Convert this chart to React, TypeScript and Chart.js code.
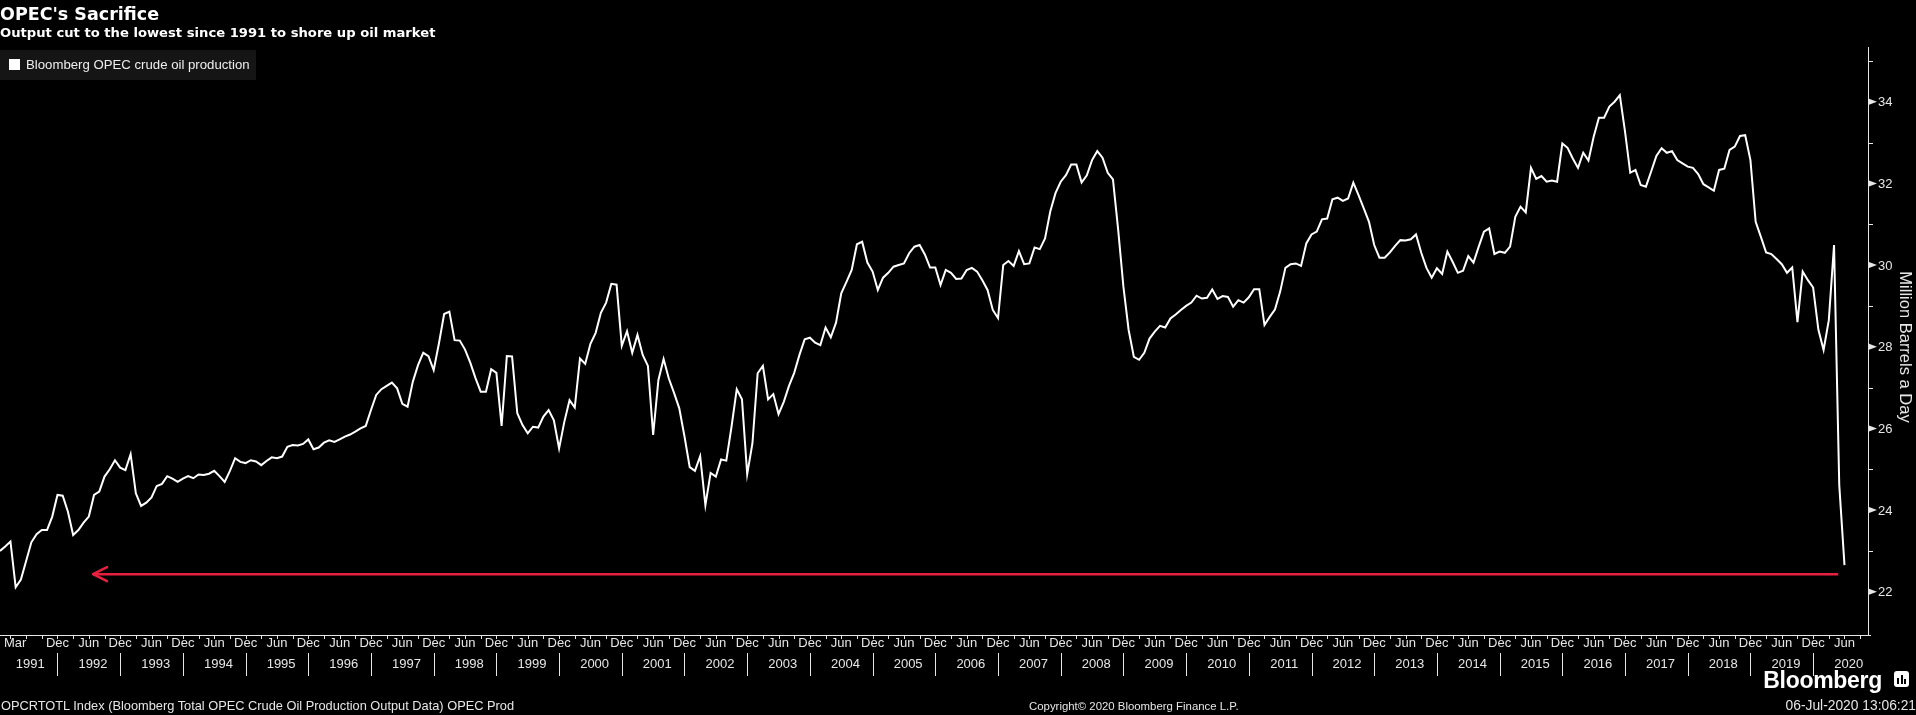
import React, { useEffect, useRef } from "react";
import { Chart, registerables } from "chart.js";

Chart.register(...registerables);

// Monthly OPEC crude production, million barrels a day, Jan 1991 .. Jun 2020 (month-end)
const production: number[] = [
  23.00, 23.11, 23.23, 22.11, 22.30, 22.75, 23.21, 23.41, 23.51, 23.51, 23.84, 24.37, // 1991
  24.35, 23.96, 23.39, 23.51, 23.69, 23.84, 24.37, 24.45, 24.82, 25.00, 25.22, 25.04, // 1992
  24.98, 25.37, 24.41, 24.10, 24.18, 24.31, 24.59, 24.64, 24.83, 24.77, 24.69, 24.77, // 1993
  24.83, 24.78, 24.87, 24.86, 24.89, 24.96, 24.83, 24.69, 24.96, 25.27, 25.18, 25.15, // 1994
  25.22, 25.19, 25.10, 25.20, 25.29, 25.27, 25.31, 25.55, 25.59, 25.58, 25.62, 25.73, // 1995
  25.49, 25.53, 25.65, 25.71, 25.67, 25.73, 25.80, 25.85, 25.92, 26.00, 26.06, 26.45, // 1996
  26.82, 26.96, 27.04, 27.12, 26.98, 26.60, 26.53, 27.14, 27.55, 27.85, 27.77, 27.43, // 1997
  28.08, 28.80, 28.86, 28.16, 28.15, 27.93, 27.61, 27.23, 26.90, 26.90, 27.45, 27.36, // 1998
  26.06, 27.77, 27.76, 26.37, 26.08, 25.88, 26.04, 26.02, 26.29, 26.45, 26.20, 25.51, // 1999
  26.16, 26.69, 26.51, 27.71, 27.58, 28.07, 28.34, 28.83, 29.08, 29.54, 29.52, 28.02, // 2000
  28.38, 27.85, 28.29, 27.80, 27.53, 25.84, 27.18, 27.70, 27.22, 26.87, 26.49, 25.80, // 2001
  25.05, 24.96, 25.32, 24.12, 24.91, 24.82, 25.24, 25.21, 26.04, 26.96, 26.71, 24.88, // 2002
  25.63, 27.35, 27.53, 26.71, 26.84, 26.35, 26.65, 27.04, 27.36, 27.80, 28.18, 28.22, // 2003
  28.10, 28.04, 28.47, 28.23, 28.59, 29.31, 29.59, 29.88, 30.51, 30.57, 30.06, 29.84, // 2004
  29.39, 29.69, 29.81, 29.96, 30.00, 30.04, 30.29, 30.45, 30.49, 30.26, 29.94, 29.94, // 2005
  29.51, 29.88, 29.81, 29.66, 29.67, 29.88, 29.93, 29.84, 29.63, 29.39, 28.90, 28.70, // 2006
  30.00, 30.10, 29.98, 30.34, 30.02, 30.04, 30.43, 30.39, 30.65, 31.31, 31.76, 32.04, // 2007
  32.20, 32.46, 32.46, 32.02, 32.20, 32.57, 32.79, 32.63, 32.26, 32.10, 30.86, 29.47, // 2008
  28.41, 27.75, 27.68, 27.85, 28.20, 28.37, 28.51, 28.47, 28.69, 28.79, 28.90, 29.00, // 2009
  29.08, 29.25, 29.18, 29.20, 29.40, 29.17, 29.24, 29.22, 28.98, 29.14, 29.08, 29.21, // 2010
  29.41, 29.41, 28.53, 28.73, 28.91, 29.35, 29.93, 30.02, 30.04, 29.98, 30.53, 30.75, // 2011
  30.82, 31.12, 31.14, 31.61, 31.65, 31.57, 31.63, 32.02, 31.71, 31.39, 31.06, 30.49, // 2012
  30.18, 30.18, 30.31, 30.47, 30.61, 30.60, 30.63, 30.75, 30.30, 29.93, 29.69, 29.92, // 2013
  29.78, 30.33, 30.08, 29.81, 29.86, 30.22, 30.06, 30.45, 30.82, 30.90, 30.27, 30.33, // 2014
  30.30, 30.45, 31.18, 31.43, 31.29, 32.38, 32.11, 32.18, 32.04, 32.07, 32.04, 32.98, // 2015
  32.87, 32.61, 32.38, 32.75, 32.56, 33.14, 33.61, 33.61, 33.88, 34.00, 34.16, 33.27, // 2016
  32.26, 32.33, 31.96, 31.92, 32.29, 32.67, 32.86, 32.75, 32.79, 32.57, 32.49, 32.41, // 2017
  32.38, 32.23, 31.98, 31.90, 31.82, 32.33, 32.36, 32.82, 32.90, 33.16, 33.18, 32.57, // 2018
  31.06, 30.69, 30.31, 30.27, 30.15, 30.02, 29.81, 29.94, 28.60, 29.84, 29.63, 29.45, // 2019
  28.42, 27.92, 28.65, 30.49, 24.61, 22.65, // 2020
];

const yearLabels: string[] = [
  "1991", "1992", "1993", "1994", "1995", "1996", "1997", "1998", "1999", "2000",
  "2001", "2002", "2003", "2004", "2005", "2006", "2007", "2008", "2009", "2010",
  "2011", "2012", "2013", "2014", "2015", "2016", "2017", "2018", "2019", "2020",
];
const firstMonthLabel = "Mar";
const midYearLabel = "Jun";
const lateYearLabel = "Dec";

const yMajorTicks: number[] = [22, 24, 26, 28, 30, 32, 34];
const yMinorTicks: number[] = [23, 25, 27, 29, 31, 33, 35];

// red "lowest since 1991" arrow (month index from Jan 1991, level)
const arrowMonths: number[] = [17.8, 351.8];
const arrowLevel = 22.43;

const titleText = "OPEC's Sacrifice";
const subtitleText = "Output cut to the lowest since 1991 to shore up oil market";
const legendText = "Bloomberg OPEC crude oil production";
const axisTitle = "Million Barrels a Day";
const sourceText = "OPCRTOTL Index (Bloomberg Total OPEC Crude Oil Production Output Data) OPEC Prod";
const copyrightText = "Copyright\u00A9 2020 Bloomberg Finance L.P.";
const stampText = "06-Jul-2020 13:06:21";

const TICK_FONT = "'Liberation Sans', Arial, sans-serif";

const bbgAxes = {
  id: "bbgAxes",
  afterDatasetsDraw(chart: any) {
    const { ctx, chartArea: a, scales } = chart;
    const xs = scales.x;
    const ys = scales.y;
    ctx.save();

    // arrow head on the red line
    const tipX = xs.getPixelForValue(arrowMonths[0]);
    const tipY = ys.getPixelForValue(arrowLevel);
    ctx.strokeStyle = "#e8203f";
    ctx.lineWidth = 2.5;
    ctx.lineCap = "round";
    ctx.lineJoin = "round";
    ctx.beginPath();
    ctx.moveTo(tipX + 14, tipY - 7);
    ctx.lineTo(tipX, tipY);
    ctx.lineTo(tipX + 14, tipY + 7);
    ctx.stroke();

    // right axis
    ctx.strokeStyle = "#e6e6e6";
    ctx.lineWidth = 1;
    ctx.lineCap = "butt";
    ctx.beginPath();
    ctx.moveTo(a.right + 0.5, a.top);
    ctx.lineTo(a.right + 0.5, a.bottom + 1);
    ctx.stroke();
    yMinorTicks.forEach((v) => {
      const y = Math.round(ys.getPixelForValue(v)) + 0.5;
      ctx.beginPath();
      ctx.moveTo(a.right, y);
      ctx.lineTo(a.right + 5, y);
      ctx.stroke();
    });
    ctx.fillStyle = "#e6e6e6";
    ctx.font = `13px ${TICK_FONT}`;
    ctx.textAlign = "left";
    ctx.textBaseline = "middle";
    yMajorTicks.forEach((v) => {
      const y = ys.getPixelForValue(v);
      ctx.beginPath();
      ctx.moveTo(a.right + 1, y - 3);
      ctx.lineTo(a.right + 9, y);
      ctx.lineTo(a.right + 1, y + 3);
      ctx.closePath();
      ctx.fill();
      ctx.fillText(String(v), a.right + 10, y + 1);
    });
    ctx.save();
    ctx.translate(a.right + 37, (a.top + a.bottom) / 2 + 6);
    ctx.rotate(Math.PI / 2);
    ctx.textAlign = "center";
    ctx.font = `16.5px ${TICK_FONT}`;
    ctx.fillText(axisTitle, 0, 0);
    ctx.restore();

    // bottom axis
    ctx.beginPath();
    ctx.moveTo(a.left, a.bottom + 0.5);
    ctx.lineTo(a.right + 3, a.bottom + 0.5);
    ctx.stroke();
    for (let t = 2; t < xs.max; t += 3) {
      const x = Math.round(xs.getPixelForValue(t)) + 0.5;
      ctx.beginPath();
      ctx.moveTo(x, a.bottom);
      ctx.lineTo(x, a.bottom + 4);
      ctx.stroke();
    }

    const monthY = a.bottom + 8;
    const yearY = a.bottom + 29;
    ctx.font = `13px ${TICK_FONT}`;
    ctx.textAlign = "left";
    ctx.fillText(firstMonthLabel, a.left + 4, monthY);
    ctx.textAlign = "center";
    yearLabels.forEach((label, i) => {
      const base = i * 12;
      if (i > 0) ctx.fillText(midYearLabel, xs.getPixelForValue(base + 5), monthY);
      if (i < yearLabels.length - 1) ctx.fillText(lateYearLabel, xs.getPixelForValue(base + 11), monthY);
      ctx.fillText(label, xs.getPixelForValue(base + 5.8), yearY);
      if (i > 0) {
        const sx = Math.round(xs.getPixelForValue(base - 1)) + 0.5;
        ctx.beginPath();
        ctx.moveTo(sx, a.bottom + 18);
        ctx.lineTo(sx, a.bottom + 41);
        ctx.stroke();
      }
    });

    ctx.restore();
  },
};

export default function App() {
  const canvasRef = useRef<HTMLCanvasElement | null>(null);

  useEffect(() => {
    document.body.style.margin = "0";
    document.body.style.background = "#000";
    const canvas = canvasRef.current;
    if (!canvas) return;
    const chart = new Chart(canvas, {
      type: "line",
      data: {
        datasets: [
          {
            label: legendText,
            data: production.map((v, i) => ({ x: i, y: v })),
            borderColor: "#ffffff",
            borderWidth: 2,
            pointRadius: 0,
            tension: 0,
            fill: false,
          },
          {
            label: "low",
            data: arrowMonths.map((m) => ({ x: m, y: arrowLevel })),
            borderColor: "#e8203f",
            borderWidth: 2.5,
            pointRadius: 0,
            fill: false,
          },
        ],
      },
      options: {
        animation: false,
        responsive: false,
        devicePixelRatio: 1,
        layout: { padding: { left: 0, right: 48, top: 47, bottom: 80 } },
        scales: {
          x: { type: "linear", min: 0, max: 357.5, display: false },
          y: { type: "linear", min: 20.94, max: 35.34, display: false },
        },
        plugins: {
          legend: { display: false },
          tooltip: { enabled: false },
          title: { display: false },
        },
      },
      plugins: [bbgAxes],
    });
    return () => chart.destroy();
  }, []);

  const base: React.CSSProperties = { position: "absolute", color: "#fff", whiteSpace: "nowrap", margin: 0 };

  return (
    <div style={{ position: "fixed", left: 0, top: 0, width: 1916, height: 715, background: "#000", overflow: "hidden" }}>
      <canvas ref={canvasRef} width={1916} height={715} style={{ position: "absolute", left: 0, top: 0, width: 1916, height: 715 }} />
      <div style={{ ...base, left: 0, top: 2, fontFamily: "'DejaVu Sans', Verdana, sans-serif", fontWeight: 700, fontSize: 17.5, lineHeight: "24px" }}>{titleText}</div>
      <div style={{ ...base, left: 0, top: 24, fontFamily: "'DejaVu Sans', Verdana, sans-serif", fontWeight: 700, fontSize: 13.15, lineHeight: "18px" }}>{subtitleText}</div>
      <div style={{ ...base, left: 0, top: 50, width: 256, height: 30, background: "#151515" }}>
        <div style={{ position: "absolute", left: 9, top: 9, width: 11, height: 11, background: "#fff" }} />
        <div style={{ position: "absolute", left: 26, top: 7, fontFamily: TICK_FONT, fontSize: 13.2, lineHeight: "16px", color: "#eee" }}>{legendText}</div>
      </div>
      <div style={{ ...base, left: 1, top: 698, fontFamily: TICK_FONT, fontSize: 12.8, lineHeight: "16px", color: "#e6e6e6" }}>{sourceText}</div>
      <div style={{ ...base, left: 1029, top: 698, fontFamily: TICK_FONT, fontSize: 11.4, lineHeight: "16px", color: "#e6e6e6" }}>{copyrightText}</div>
      <div style={{ ...base, right: 0, top: 698, fontFamily: TICK_FONT, fontSize: 13.8, lineHeight: "16px", color: "#e6e6e6" }}>{stampText}</div>
      <div style={{ ...base, right: 34, top: 666, fontFamily: TICK_FONT, fontWeight: 700, fontSize: 23, lineHeight: "28px", letterSpacing: -0.3 }}>Bloomberg</div>
      <div style={{ position: "absolute", left: 1894, top: 671, width: 15, height: 16, background: "#fff", borderRadius: 3 }}>
        <div style={{ position: "absolute", left: 3, top: 7, width: 2, height: 6, background: "#000" }} />
        <div style={{ position: "absolute", left: 6.5, top: 4, width: 2, height: 9, background: "#000" }} />
        <div style={{ position: "absolute", left: 10, top: 8, width: 2, height: 5, background: "#000" }} />
      </div>
    </div>
  );
}
